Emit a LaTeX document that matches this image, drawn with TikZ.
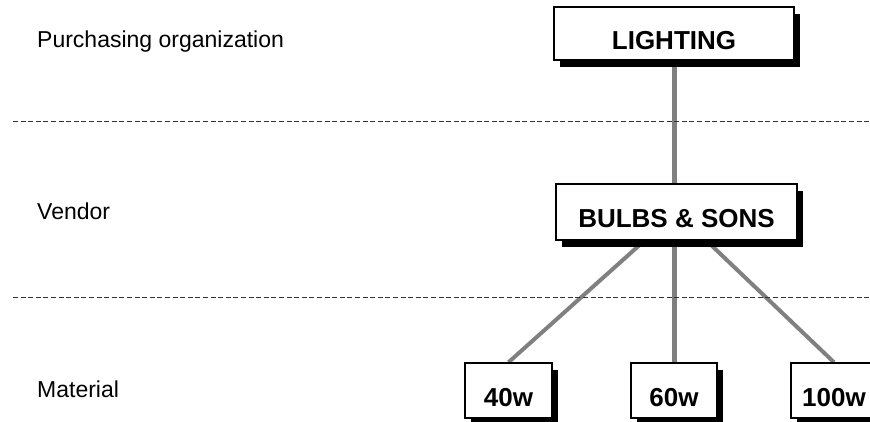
\documentclass[tikz,border=0pt]{standalone}
\usepackage{fontspec}
\setmainfont{Liberation Sans}
\usetikzlibrary{shadows,backgrounds}
\definecolor{linkgray}{HTML}{808080}
\tikzset{
  unitbox/.style={draw=black, fill=white, line width=1.4pt, inner sep=0pt,
    font=\bfseries\fontsize{26}{26}\selectfont, text height=31pt, text depth=0pt,
    drop shadow={shadow xshift=6pt, shadow yshift=-6.5pt, fill=black, opacity=1}},
  levellabel/.style={anchor=base west, inner sep=0pt, font=\fontsize{23}{23}\selectfont},
  levelsep/.style={draw=black!80, line width=0.8pt, dash pattern=on 5pt off 2.6pt},
  link/.style={draw=linkgray, line width=4pt},
  trunk/.style={draw=linkgray, line width=5pt}
}
\begin{document}
\begin{tikzpicture}[x=1pt,y=-1pt]
\useasboundingbox (0,0) rectangle (870,421);

% level separators
\draw[levelsep] (13,121) -- (870,121);
\draw[levelsep] (13,297) -- (870,297);

% level names
\node[levellabel] (lblorg) at (37,47) {Purchasing organization};
\node[levellabel] (lblvendor) at (37,219) {Vendor};
\node[levellabel] (lblmat) at (37,397) {Material};

% hierarchy boxes
\node[unitbox, minimum width=240pt, minimum height=53pt] (org) at (674,33.5) {LIGHTING};
\node[unitbox, minimum width=241pt, minimum height=56pt] (vendor) at (676.5,212) {BULBS \& SONS};
\node[unitbox, minimum width=87pt, minimum height=55pt] (m40) at (508.5,390.5) {40w};
\node[unitbox, minimum width=86pt, minimum height=55pt] (m60) at (674,390.5) {60w};
\node[unitbox, minimum width=86pt, minimum height=55pt] (m100) at (834,390.5) {100w};

% connectors behind the boxes
\begin{pgfonlayer}{background}
  \draw[trunk] (org.center) -- (org.center |- vendor.center);
  \draw[trunk] (m60.center |- vendor.center) -- (m60.north);
  \draw[link] (vendor.center) -- (m40.north);
  \draw[link] (vendor.center) -- (m100.north);
\end{pgfonlayer}
\end{tikzpicture}
\end{document}
